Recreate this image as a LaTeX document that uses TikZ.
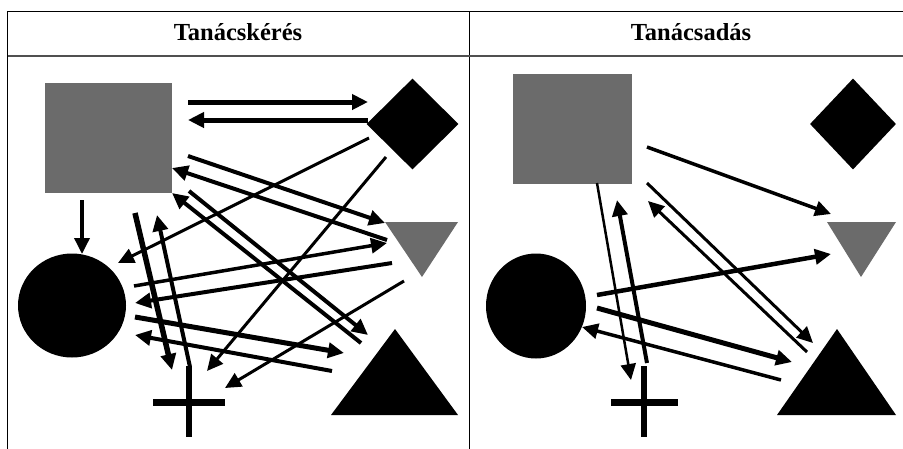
\documentclass[tikz,border=0pt]{standalone}
\usepackage{fontspec}
\setmainfont{Liberation Serif}
\usepackage{xcolor}
\usetikzlibrary{shapes.geometric,arrows.meta}

\definecolor{shapegrey}{RGB}{107,107,107}
\definecolor{rulegrey}{RGB}{80,80,80}

\begin{document}
\begin{tikzpicture}[
    x=1pt, y=-1pt,
    blackfill/.style={fill=black, draw=none, inner sep=0pt},
    greyfill/.style={fill=shapegrey, draw=none, inner sep=0pt},
    headtext/.style={font=\bfseries\fontsize{24.5}{28}\selectfont, anchor=base, inner sep=0pt},
    arrow/.style={-{Triangle[length=16pt,width=15pt]}},
    bigarrow/.style={arrow, line width=5pt},
    midarrow/.style={arrow, line width=3.5pt},
    smallarrow/.style={arrow, line width=2.5pt}
]
    \clip (0,0) rectangle (903,448);

    % table
    \draw[line width=1pt] (7.5,460) -- (7.5,11) -- (910,11);
    \draw[line width=1pt] (469,11) -- (469,460);
    \draw[rulegrey, line width=2pt] (7.5,56) -- (910,56);
    \node[headtext] (askhead) at (238,40) {Tanácskérés};
    \node[headtext] (givehead) at (691,40) {Tanácsadás};

    % Tanácskérés shapes
    \node[greyfill, minimum width=127pt, minimum height=110pt] (squareL) at (108.5,138) {};
    \node[blackfill, diamond, minimum width=92pt, minimum height=91pt] (diamondL) at (412.5,124) {};
    \node[blackfill, ellipse, minimum width=108pt, minimum height=104pt] (circleL) at (72,305.5) {};
    \fill[shapegrey] (385,222) -- (458,222) -- (422,277) -- cycle;
    \fill (331,415) -- (458,415) -- (395,329) -- cycle;
    \draw[line width=7pt] (153,402) -- (225,402);
    \draw[line width=6pt] (189,366) -- (189,437);

    % Tanácsadás shapes
    \node[greyfill, minimum width=119pt, minimum height=110pt] (squareR) at (572.5,129) {};
    \node[blackfill, diamond, minimum width=86pt, minimum height=91pt] (diamondR) at (853,124) {};
    \node[blackfill, ellipse, minimum width=100pt, minimum height=105pt] (circleR) at (536,306) {};
    \fill[shapegrey] (827,222) -- (896,222) -- (861,277) -- cycle;
    \fill (777,415) -- (896,415) -- (837,329) -- cycle;
    \draw[line width=7pt] (611,402) -- (678,402);
    \draw[line width=6pt] (644,366) -- (644,437);

    % Tanácskérés arrow ends
    \coordinate (l1s) at (188,102);  \coordinate (l1e) at (368,102);
    \coordinate (l2s) at (368,120);  \coordinate (l2e) at (188,120);
    \coordinate (l3s) at (82,200);   \coordinate (l3e) at (82,254);
    \coordinate (l4s) at (369,138);  \coordinate (l4e) at (118,263);
    \coordinate (l5s) at (386,157);  \coordinate (l5e) at (207,371);
    \coordinate (l6s) at (188,156);  \coordinate (l6e) at (385,223);
    \coordinate (l7s) at (387,240);  \coordinate (l7e) at (172,168);
    \coordinate (l8s) at (361,343);  \coordinate (l8e) at (172,193);
    \coordinate (l9s) at (189,191);  \coordinate (l9e) at (368,335);
    \coordinate (l10s) at (134,286); \coordinate (l10e) at (387,243);
    \coordinate (l11s) at (392,263); \coordinate (l11e) at (135,303);
    \coordinate (l12s) at (135,317); \coordinate (l12e) at (344,353);
    \coordinate (l13s) at (332,371); \coordinate (l13e) at (135,335);
    \coordinate (l14s) at (404,281); \coordinate (l14e) at (225,388);
    \coordinate (l15s) at (135,213); \coordinate (l15e) at (172,370);
    \coordinate (l16s) at (190,367); \coordinate (l16e) at (157,215);

    \draw[bigarrow] (l1s) -- (l1e);
    \draw[bigarrow] (l2s) -- (l2e);
    \draw[midarrow] (l3s) -- (l3e);
    \draw[smallarrow, line width=3pt] (l4s) -- (l4e);
    \draw[smallarrow, line width=3pt] (l5s) -- (l5e);
    \draw[midarrow, line width=4pt] (l6s) -- (l6e);
    \draw[midarrow, line width=4pt] (l7s) -- (l7e);
    \draw[midarrow, line width=4pt] (l8s) -- (l8e);
    \draw[midarrow, line width=4pt] (l9s) -- (l9e);
    \draw[midarrow] (l10s) -- (l10e);
    \draw[midarrow, line width=4pt] (l11s) -- (l11e);
    \draw[bigarrow] (l12s) -- (l12e);
    \draw[midarrow, line width=4pt] (l13s) -- (l13e);
    \draw[smallarrow, line width=3pt] (l14s) -- (l14e);
    \draw[bigarrow, line width=5.5pt] (l15s) -- (l15e);
    \draw[midarrow, line width=4pt] (l16s) -- (l16e);

    % Tanácsadás arrow ends
    \coordinate (r1s) at (647,147);  \coordinate (r1e) at (831,214);
    \coordinate (r2s) at (597,183);  \coordinate (r2e) at (631,380);
    \coordinate (r3s) at (647,363);  \coordinate (r3e) at (617,200);
    \coordinate (r4s) at (647,183);  \coordinate (r4e) at (813,343);
    \coordinate (r5s) at (807,352);  \coordinate (r5e) at (648,201);
    \coordinate (r6s) at (597,295);  \coordinate (r6e) at (831,254);
    \coordinate (r7s) at (597,308);  \coordinate (r7e) at (792,362);
    \coordinate (r8s) at (781,380);  \coordinate (r8e) at (582,327);

    \draw[midarrow] (r1s) -- (r1e);
    \draw[smallarrow] (r2s) -- (r2e);
    \draw[midarrow, line width=4pt] (r3s) -- (r3e);
    \draw[smallarrow, line width=3pt] (r4s) -- (r4e);
    \draw[smallarrow, line width=3pt] (r5s) -- (r5e);
    \draw[bigarrow, line width=4.5pt] (r6s) -- (r6e);
    \draw[bigarrow] (r7s) -- (r7e);
    \draw[midarrow] (r8s) -- (r8e);
\end{tikzpicture}
\end{document}
